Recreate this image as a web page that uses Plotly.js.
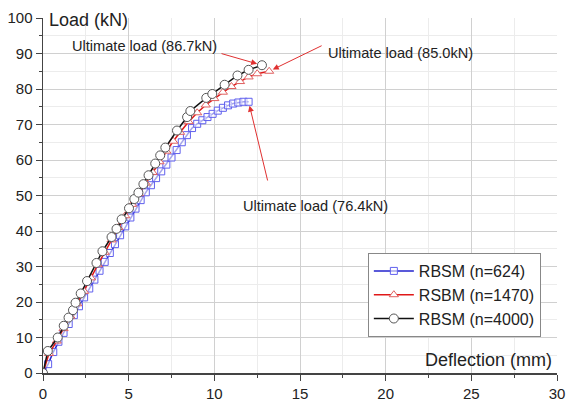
<!DOCTYPE html>
<html><head><meta charset="utf-8">
<script src="https://cdn.plot.ly/plotly-3.0.1.min.js"></script>
<style>body{margin:0;background:#fff}#c{width:566px;height:400px}</style>
</head><body><div id="c"></div>
<script>
// n=624 (blue squares)
const blueX = [0, 0.3, 0.6, 0.9, 1.2, 1.5, 1.8, 2.1, 2.4, 2.7, 3.0, 3.3, 3.6, 3.9, 4.2, 4.5, 4.8, 5.1, 5.4, 5.7, 6.0, 6.3, 6.6, 6.9, 7.2, 7.5, 7.8, 8.1, 8.4, 8.7, 9.0, 9.3, 9.6, 9.9, 10.2, 10.5, 10.8, 11.1, 11.4, 11.7, 12.0];
const blueY = [0, 2.5, 5.9, 8.8, 11.3, 13.8, 16.3, 18.8, 21.3, 23.8, 26.3, 28.8, 31.3, 33.8, 36.3, 38.8, 41.3, 43.8, 46.3, 48.7, 50.9, 52.9, 54.9, 56.8, 58.7, 60.7, 62.8, 65.0, 67.0, 69.0, 70.2, 71.2, 72.1, 73.0, 73.9, 74.7, 75.4, 75.9, 76.2, 76.4, 76.4];
// n=1470 (red triangles)
const redX = [0, 0.35, 0.8, 1.2, 1.6, 2.0, 2.4, 2.8, 3.2, 3.6, 4.0, 4.4, 4.8, 5.2, 5.6, 6.0, 6.4, 6.8, 7.2, 7.6, 8.0, 8.5, 9.0, 9.5, 10.0, 10.5, 11.0, 11.5, 12.0, 12.5, 13.2];
const redY = [0, 5.5, 9.0, 12.5, 16.0, 19.5, 23.0, 26.8, 30.5, 34.0, 37.5, 41.0, 44.3, 47.5, 50.5, 53.5, 56.5, 59.5, 62.5, 65.3, 67.8, 70.8, 73.3, 75.5, 77.3, 79.1, 80.7, 82.1, 83.4, 84.3, 85.0];
// n=4000 (black circles)
const blackX = [0, 0.28, 0.86, 1.21, 1.49, 1.75, 1.9, 2.2, 2.57, 3.12, 3.47, 4.0, 4.29, 4.59, 5.02, 5.33, 5.57, 5.86, 6.16, 6.55, 6.84, 7.14, 7.82, 8.41, 8.6, 9.53, 9.88, 10.6, 11.35, 12.0, 12.78];
const blackY = [0, 6.2, 10.0, 13.3, 15.6, 17.7, 19.8, 22.4, 25.9, 31.0, 34.3, 38.3, 40.6, 43.3, 46.4, 49.0, 50.8, 53.2, 55.7, 59.0, 61.3, 63.5, 68.3, 72.1, 73.8, 77.5, 78.6, 81.2, 83.8, 85.4, 86.7];

const seriesNames = ['RBSM (n=624)', 'RSBM (n=1470)', 'RBSM (n=4000)'];
const ultimateLabels = ['Ultimate load (86.7kN)', 'Ultimate load (85.0kN)', 'Ultimate load (76.4kN)'];
const xTitle = 'Deflection (mm)';
const yTitle = 'Load (kN)';

const F = 'Liberation Sans, Arial, sans-serif';
const traces = [
  {x: blueX, y: blueY, name: seriesNames[0], mode: 'lines+markers',
   line: {color: '#2222cc', width: 1.5},
   marker: {symbol: 'square', size: 7, color: 'rgba(255,255,255,0.6)', line: {color: '#6060ee', width: 1}}},
  {x: redX, y: redY, name: seriesNames[1], mode: 'lines+markers',
   line: {color: '#e01818', width: 1.5},
   marker: {symbol: 'triangle-up', size: 8, color: '#ffffff', line: {color: '#e06060', width: 1}}},
  {x: blackX, y: blackY, name: seriesNames[2], mode: 'lines+markers',
   line: {color: '#111111', width: 1.5},
   marker: {symbol: 'circle', size: 9, color: '#ffffff', line: {color: '#555555', width: 1}}}
];

const bLast = blackX.length - 1, rLast = redX.length - 1, uLast = blueX.length - 1;
const arrowBase = {showarrow: true, arrowcolor: '#e03030', arrowwidth: 1, arrowhead: 2, arrowsize: 1.2, axref: 'x', ayref: 'y', text: ''};
const annFont = {family: F, size: 14.6, color: '#222'};
const layout = {
  width: 566, height: 400,
  margin: {l: 43, r: 9, t: 18, b: 27},
  paper_bgcolor: '#fff', plot_bgcolor: '#fff',
  font: {family: F, size: 15, color: '#222'},
  showlegend: true,
  legend: {x: 0.632, y: 0.338, xanchor: 'left', yanchor: 'top', bgcolor: '#fff',
           bordercolor: '#888', borderwidth: 1, font: {family: F, size: 16, color: '#222'},
           tracegroupgap: 0, itemwidth: 40},
  xaxis: {range: [0, 30], dtick: 5, tick0: 0, showline: true, linecolor: '#444', linewidth: 1.5,
          ticks: 'outside', ticklen: 6, tickcolor: '#444', showgrid: true, gridcolor: '#d0d0d0', gridwidth: 1,
          zeroline: false, tickfont: {family: F, size: 15, color: '#222'},
          minor: {dtick: 2.5, ticks: 'outside', ticklen: 3, tickcolor: '#444', showgrid: true, gridcolor: '#ececec'}},
  yaxis: {range: [0, 100], dtick: 10, tick0: 0, showline: true, linecolor: '#444', linewidth: 1.5,
          ticks: 'outside', ticklen: 6, tickcolor: '#444', showgrid: true, gridcolor: '#d0d0d0', gridwidth: 1,
          zeroline: false, tickfont: {family: F, size: 15, color: '#222'},
          minor: {dtick: 5, ticks: 'outside', ticklen: 3, tickcolor: '#444', showgrid: true, gridcolor: '#ececec'}},
  annotations: [
    {xref: 'paper', yref: 'paper', x: 0.008, y: 1.0, xanchor: 'left', yanchor: 'middle', yshift: -2, showarrow: false,
     text: yTitle, font: {family: F, size: 18, color: '#222'}},
    {xref: 'paper', yref: 'paper', x: 0.995, y: 0.0, xanchor: 'right', yanchor: 'bottom', yshift: 1, showarrow: false,
     text: xTitle, font: {family: F, size: 18, color: '#222'}},
    {xref: 'x', yref: 'y', x: 5.93, y: 92.1, showarrow: false, text: ultimateLabels[0], font: annFont},
    {xref: 'x', yref: 'y', x: 20.84, y: 90.2, showarrow: false, text: ultimateLabels[1], font: annFont},
    {xref: 'x', yref: 'y', x: 15.88, y: 47.0, showarrow: false, text: ultimateLabels[2], font: annFont},
    Object.assign({}, arrowBase, {x: blackX[bLast], y: blackY[bLast], ax: 10.33, ay: 90.1, standoff: 5}),
    Object.assign({}, arrowBase, {x: redX[rLast], y: redY[rLast], ax: 16.35, ay: 92.4, standoff: 4}),
    Object.assign({}, arrowBase, {x: blueX[uLast], y: blueY[uLast], ax: 13.13, ay: 53.8, standoff: 4})
  ]
};
Plotly.newPlot('c', traces, layout, {displayModeBar: false, staticPlot: true});
</script></body></html>
